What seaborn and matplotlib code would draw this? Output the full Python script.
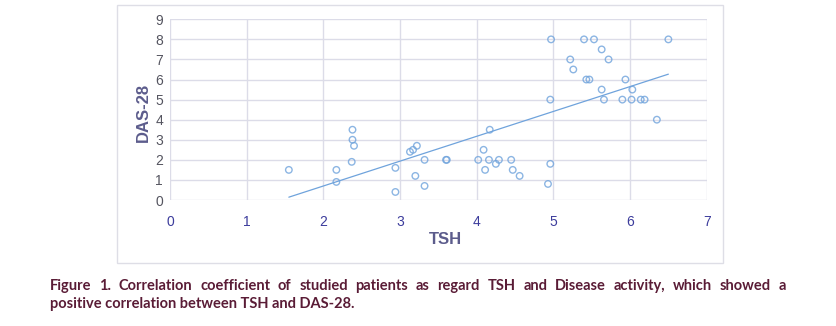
import matplotlib
matplotlib.use("Agg")
import matplotlib.pyplot as plt
from matplotlib.patches import Rectangle
import seaborn as sns
import pandas as pd

# TSH (x) and DAS-28 (y) per patient
tsh = [1.55, 2.17, 2.17, 2.37, 2.38, 2.38, 2.40, 2.94, 2.94,
       3.13, 3.17, 3.22, 3.20, 3.32, 3.32, 3.60, 3.61,
       4.02, 4.09, 4.11, 4.16, 4.17, 4.25, 4.29, 4.45, 4.47, 4.56,
       4.93, 4.96, 4.96, 4.97,
       5.22, 5.26, 5.40, 5.43, 5.47, 5.53, 5.63, 5.63, 5.66, 5.72,
       5.90, 5.94, 6.02, 6.03, 6.14, 6.19, 6.35, 6.50]
das28 = [1.5, 1.5, 0.9, 1.9, 3.5, 3.0, 2.7, 1.6, 0.4,
         2.4, 2.5, 2.7, 1.2, 2.0, 0.7, 2.0, 2.0,
         2.0, 2.5, 1.5, 2.0, 3.5, 1.8, 2.0, 2.0, 1.5, 1.2,
         0.8, 1.8, 5.0, 8.0,
         7.0, 6.5, 8.0, 6.0, 6.0, 8.0, 7.5, 5.5, 5.0, 7.0,
         5.0, 6.0, 5.0, 5.5, 5.0, 5.0, 4.0, 8.0]

x_ticks = [0, 1, 2, 3, 4, 5, 6, 7]
y_ticks = [0, 1, 2, 3, 4, 5, 6, 7, 8, 9]

caption_1 = ("Figure 1. Correlation coefficient of studied patients as regard TSH and "
             "Disease activity, which showed a")
caption_2 = "positive correlation between TSH and DAS-28."

df = pd.DataFrame({"TSH": tsh, "DAS-28": das28})

sns.set_style("white")
plt.rcParams["font.family"] = ["Liberation Sans", "DejaVu Sans"]

W, H = 836, 326
fig = plt.figure(figsize=(W / 100, H / 100), dpi=100)
fig.patch.set_facecolor("white")

# outer chart frame
fig.patches.append(Rectangle((117 / W, 1 - 263 / H), (723 - 117) / W, (263 - 5) / H,
                             transform=fig.transFigure, fill=False,
                             edgecolor="#dedee6", linewidth=1.0))

ax = fig.add_axes([170 / W, 1 - 200 / H, (706.7 - 170) / W, (200 - 19.3) / H])

blue = "#6fa3dc"
sns.regplot(data=df, x="TSH", y="DAS-28", ax=ax, ci=None, truncate=True,
            scatter_kws=dict(s=22, facecolors="none", edgecolors=blue, linewidths=1.0),
            line_kws=dict(color=blue, linewidth=0.9))

ax.set_xlim(0, 7)
ax.set_ylim(0, 9)
ax.set_xticks(x_ticks)
ax.set_yticks(y_ticks)
ax.grid(True, color="#dcdce8", linewidth=1.0)
ax.set_axisbelow(True)
for s in ax.spines.values():
    s.set_visible(False)
ax.tick_params(axis="both", length=0)
ax.tick_params(axis="x", colors="#3c3c9c", labelsize=10, pad=11)
ax.tick_params(axis="y", colors="#555560", labelsize=10, pad=5)

ax.set_xlabel("")
ax.set_ylabel("")
fig.text(445 / W, 1 - 240 / H, "TSH", ha="center", va="center",
         fontsize=12, fontweight="bold", color="#5c5c8c")
fig.text(143 / W, 1 - 112 / H, "DAS-28", ha="center", va="center", rotation=90,
         fontsize=12, fontweight="bold", color="#5c5c8c")

# caption: first line justified between x=50 and x=786, second line left-aligned
cap_color = "#5a1c36"
cap_kw = dict(fontsize=10.5, fontweight="bold", color=cap_color,
              family=["Lato", "DejaVu Sans"], va="center", ha="left")
renderer = fig.canvas.get_renderer()
words = caption_1.split(" ")
left, right = 50, 786
items = [fig.text(0, 1 - 286 / H, w, **cap_kw) for w in words]
widths = [t.get_window_extent(renderer).width for t in items]
gap = (right - left - sum(widths)) / (len(words) - 1)
xpos = left
for t, w in zip(items, widths):
    t.set_x(xpos / W)
    xpos += w + gap
fig.text(left / W, 1 - 304 / H, caption_2, **cap_kw)

fig.savefig("out.png", dpi=100, facecolor="white")
